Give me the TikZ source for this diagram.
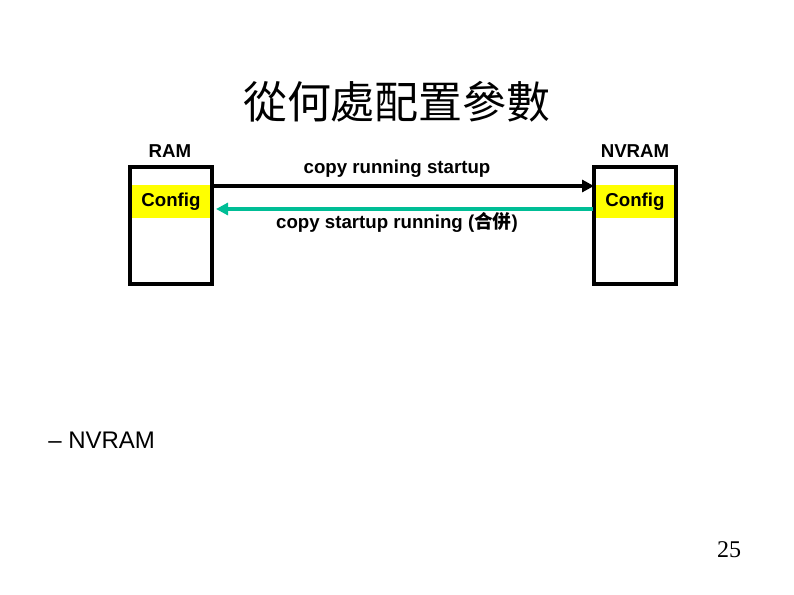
\documentclass[tikz,border=0pt]{standalone}
\usepackage{fontspec}
\setmainfont{Liberation Serif}
\newfontfamily\sans{Liberation Sans}
\newfontfamily\cjk{Noto Sans CJK SC}
\usetikzlibrary{arrows.meta}
\definecolor{cfgyellow}{RGB}{255,255,0}
\definecolor{arrgreen}{RGB}{0,190,150}
\tikzset{
  mem/.style={draw=black,line width=3pt,fill=white},
  lbl/.style={font=\sans\bfseries\fontsize{14}{16}\selectfont,inner sep=0pt},
  conn/.style={line width=2.8pt,-{Triangle[length=9pt,width=9pt]}}
}
\begin{document}
\begin{tikzpicture}[x=0.75pt,y=-0.75pt]
\useasboundingbox (0,0) rectangle (794,595);
\node[inner sep=0pt,font=\cjk\fontsize{33}{37}\selectfont] (title) at (397,102) {從何處配置參數};
\draw[mem] (130,167) rectangle (212,284);
\draw[mem] (594,167) rectangle (676,284);
\fill[cfgyellow] (132,185) rectangle (210,218);
\fill[cfgyellow] (596,185) rectangle (674,218);
\node[lbl] (ramcfg) at (171,202) {Config};
\node[lbl] (nvcfg) at (635,202) {Config};
\node[lbl] (ram) at (170,151) {RAM};
\node[lbl] (nvram) at (635,151) {NVRAM};
\coordinate (a1) at (213,186);
\coordinate (a2) at (594,186);
\coordinate (b1) at (593,209);
\coordinate (b2) at (216,209);
\draw[conn,black] (a1) -- (a2);
\draw[conn,arrgreen] (b1) -- (b2);
\node[lbl] (t1) at (397,169) {copy running startup};
\node[lbl] (t2) at (397,222) {copy startup running ({\cjk\bfseries 合併})};
\node[anchor=west,inner sep=0pt,font=\sans\fontsize{18}{20}\selectfont] (nv) at (48,440) {– NVRAM};
\node[inner sep=0pt,font=\fontsize{18}{20}\selectfont] (pg) at (729,550) {25};
\end{tikzpicture}
\end{document}
